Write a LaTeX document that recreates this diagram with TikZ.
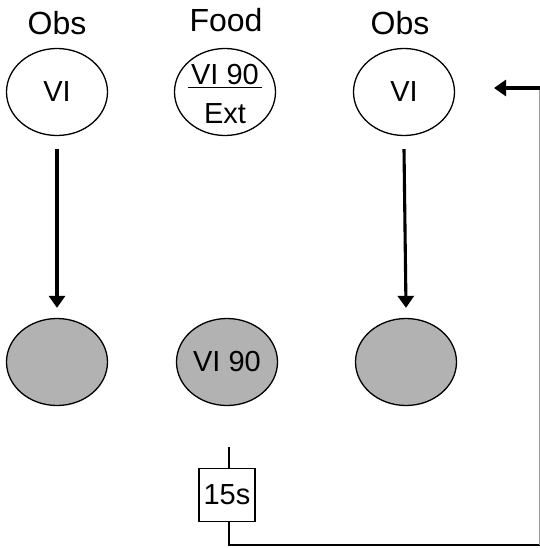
\documentclass[tikz,border=0pt]{standalone}
\usepackage{fontspec}
\setmainfont{Liberation Sans}
\usetikzlibrary{arrows.meta,shapes.geometric}
\begin{document}
\begin{tikzpicture}[x=1pt,y=-1pt,
  oval/.style={ellipse, draw, line width=1.3pt, minimum width=101pt, minimum height=87pt, inner sep=0pt, font=\fontsize{29}{32}\selectfont},
  goval/.style={oval, fill=black!30},
  lab/.style={font=\fontsize{32}{34}\selectfont, inner sep=0pt},
  txt/.style={font=\fontsize{29}{32}\selectfont, inner sep=0pt},
  arr/.style={line width=3.1pt, -{Triangle[length=12pt,width=16pt]}},
  wire/.style={line width=2.6pt},
  boxnode/.style={draw, line width=1.3pt, minimum width=56pt, minimum height=53pt, inner sep=0pt, font=\fontsize{29}{32}\selectfont}
]
\useasboundingbox (0,0) rectangle (539,548);
% labels
\node[lab] (l1) at (57,23) {Obs};
\node[lab] (l2) at (226,20) {Food};
\node[lab] (l3) at (400,23) {Obs};
% top ovals
\node[oval] (t1) at (57,92) {VI};
\node[oval] (t2) at (225,92) {};
\node[oval] (t3) at (404,92) {VI};
\node[txt] (t2a) at (225,75) {VI 90};
\node[txt] (t2b) at (225,114) {Ext};
\draw[line width=1.3pt] ([xshift=-3pt,yshift=-2pt]t2a.south west) -- ([xshift=3pt,yshift=-2pt]t2a.south east);
% bottom ovals
\node[goval] (b1) at (57,362) {};
\node[goval] (b2) at (227,362) {VI 90};
\node[goval] (b3) at (406,362) {};
% arrows down
\draw[arr] ([yshift=-13pt]t1.south) -- ([yshift=10pt]b1.north);
\draw[arr] ([yshift=-13pt]t3.south) -- ([yshift=10pt]b3.north);
% delay box
\node[boxnode] (d) at (227,495) {15s};
\coordinate (dtop) at (229,447);
\coordinate (dbot) at (229,522);
\coordinate (c1) at (540,545);
\coordinate (c2) at (540,88);
\coordinate (tip) at (494,88);
\draw[wire] (dtop) -- (dtop |- d.north);
\draw[wire] (dbot) |- (c1);
\draw[line width=2pt, black!40] (c1) -- (c2);
\draw[arr] (c2) -- (tip);
\end{tikzpicture}
\end{document}
